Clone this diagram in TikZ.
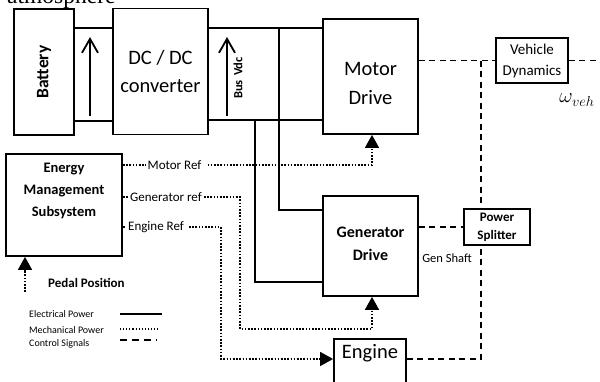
\documentclass[tikz,border=0pt]{standalone}
\usepackage{fontspec}
\setmainfont{Carlito}
\newfontfamily\serifatm{Liberation Serif}
\usetikzlibrary{arrows.meta,calc}
\begin{document}
\begin{tikzpicture}[x=1pt,y=-1pt,
 box/.style={draw, line width=1.8pt, rectangle, inner sep=0pt},
 elec/.style={line width=1.8pt},
 ctrl/.style={line width=1.8pt, dash pattern=on 6pt off 4.5pt},
 mech/.style={line width=1.6pt, dash pattern=on 1.6pt off 1.6pt},
 volt/.style={line width=1.8pt, -{Straight Barb[length=14pt,width=16pt,line width=1.8pt]}},
 tip/.style={-{Triangle[length=13pt,width=14pt]}},
 fs/.style 2 args={font=\fontsize{#1}{#2}\selectfont},
 fsb/.style 2 args={font=\fontsize{#1}{#2}\selectfont\bfseries},
 lbl/.style={inner sep=2pt},
]
\useasboundingbox (0,0) rectangle (600,381);
\clip (0,0) rectangle (600,381);

% title fragment
\node[anchor=base west, inner sep=0pt, font=\serifatm\fontsize{23.5}{26}\selectfont] (atm) at (7,3) {atmosphere};

% coordinates
\coordinate (y28) at (0,28);
\coordinate (y120) at (0,120);
\coordinate (y121) at (0,121);
\coordinate (y210) at (0,210);
\coordinate (y282) at (0,282);
\coordinate (y359) at (0,359);
\coordinate (x372) at (372,0);
\coordinate (x481) at (481,0);
\coordinate (busT) at (279,28);
\coordinate (busTc) at (279,210);
\coordinate (busB) at (255,120);
\coordinate (busBc) at (255,282);

% boxes
\node[box, minimum width=60pt, minimum height=126pt, fsb={17.5}{20}] (battery) at (44,72) {\rotatebox{90}{Battery}};
\node[box, minimum width=95pt, minimum height=126pt, align=center, fs={20.5}{28}] (dcdc) at (160.5,71.5) {DC / DC\\converter};
\node[box, minimum width=95pt, minimum height=115pt] (motor) at (370.5,76.5) {};
\node[align=center, fs={20.5}{29}] (motortxt) at (370.5,83) {Motor\\Drive};
\node[box, minimum width=95pt, minimum height=100pt] (gen) at (370.5,246) {};
\node[align=center, fsb={16}{23}] (gentxt) at (370.5,243.5) {Generator\\Drive};
\node[box, minimum width=116pt, minimum height=102pt] (ems) at (64,205) {};
\node[align=center, fsb={14.5}{22}] (emstxt) at (64,191) {Energy\\Management\\Subsystem};
\node[box, minimum width=72pt, minimum height=45pt, align=center, fs={15}{21}] (vd) at (532,60.5) {Vehicle\\Dynamics};
\node[box, minimum width=66pt, minimum height=36pt, align=center, fsb={13}{18}] (ps) at (497,227) {Power\\Splitter};
\node[box, minimum width=72pt, minimum height=62pt] (engine) at (370,370) {};
\node[fs={20.5}{24}] (enginetxt) at (370,353) {Engine};

% bus voltage arrows
\coordinate (v1a) at (90,116); \coordinate (v1b) at (90,37);
\coordinate (v2a) at (227,116); \coordinate (v2b) at (227,37);
\draw[volt] (v1a) -- (v1b);
\draw[volt] (v2a) -- (v2b);
\node[rotate=90, fsb={12.5}{14}] (busvdc) at (238,78) {Bus\,\,Vdc};

% electrical connections
\draw[elec] (battery.east |- y28) -- (dcdc.west |- y28);
\draw[elec] (battery.east |- y121) -- (dcdc.west |- y121);
\draw[elec] (dcdc.east |- y28) -- (motor.west |- y28);
\draw[elec] (dcdc.east |- y120) -- (motor.west |- y120);
\draw[elec] (busT) -- (busTc) -- (gen.west |- y210);
\draw[elec] (busB) -- (busBc) -- (gen.west |- y282);

% control (dashed)
\coordinate (vdout) at (600,60.5);
\coordinate (ctrlcorner) at (481,60.5);
\coordinate (engcorner) at (481,359);
\draw[ctrl] (motor.east |- vd.west) -- (vd.west);
\draw[ctrl] (vd.east) -- (vdout);
\draw[ctrl] (ctrlcorner) -- (ps.north -| x481);
\draw[ctrl] (engine.east |- y359) -- (engcorner) -- (ps.south -| x481);
\draw[ctrl] (gen.east |- ps.west) -- (ps.west);
\node[fs={12.5}{14}] (genshaft) at (447,258) {Gen Shaft};

% reference signals (dotted)
\node[lbl, fs={13}{15}] (mref) at (174.5,165) {Motor Ref};
\node[lbl, fs={13}{15}] (gref) at (166,197) {Generator ref};
\node[lbl, fs={13}{15}] (eref) at (156,227) {Engine Ref};
\coordinate (mrefc) at (372,165);
\coordinate (grefc1) at (240,197);
\coordinate (grefc2) at (240,329);
\coordinate (grefc3) at (372,329);
\coordinate (erefc1) at (221,227);
\coordinate (erefc2) at (221,359);
\draw[mech] (ems.east |- mref) -- (mref.west);
\draw[mech, tip] ([xshift=4pt]mref.east) -- (mrefc) -- (motor.south -| x372);
\draw[mech] (ems.east |- gref) -- (gref.west);
\draw[mech, tip] (gref.east) -- (grefc1) -- (grefc2) -- (grefc3) -- (gen.south -| x372);
\draw[mech] (ems.east |- eref) -- (eref.west);
\draw[mech, tip] ([xshift=3pt]eref.east) -- (erefc1) -- (erefc2) -- (engine.west |- y359);

% pedal
\coordinate (pedal) at (25,292);
\draw[mech, tip] (pedal) -- (ems.south -| pedal);
\node[anchor=west, inner sep=0pt, fsb={13}{15}] (pedtxt) at (48,283) {Pedal Position};

% omega
\node[font=\fontsize{21}{24}\selectfont] (omega) at (577,100) {$\omega_{veh}$};

% legend
\node[anchor=west, inner sep=0pt, fs={10}{12}] (leg1) at (29,314) {Electrical Power};
\node[anchor=west, inner sep=0pt, fs={10}{12}] (leg2) at (29,330) {Mechanical Power};
\node[anchor=west, inner sep=0pt, fs={10}{12}] (leg3) at (29,344) {Control Signals};
\coordinate (l1a) at (120,314); \coordinate (l1b) at (162,314);
\coordinate (l2a) at (120,329); \coordinate (l2b) at (160,329);
\coordinate (l3a) at (120,340); \coordinate (l3b) at (157,340);
\draw[line width=1.6pt] (l1a) -- (l1b);
\draw[line width=1.1pt, dash pattern=on 1.1pt off 2pt] (l2a) -- (l2b);
\draw[line width=1.6pt, dash pattern=on 7pt off 5pt] (l3a) -- (l3b);
\end{tikzpicture}
\end{document}
